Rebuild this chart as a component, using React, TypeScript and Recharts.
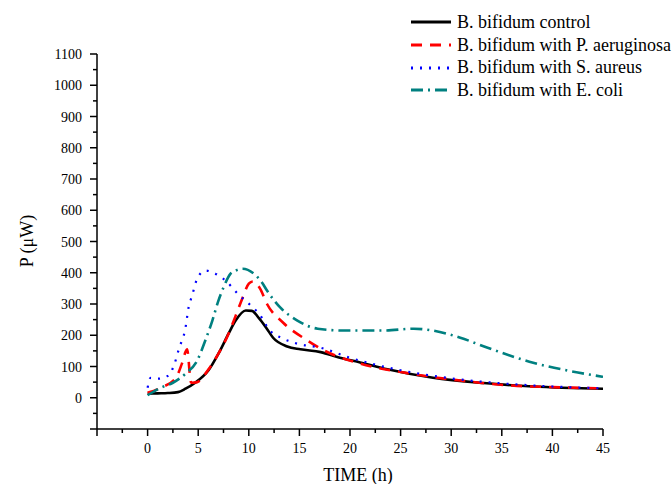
import React from "react";
import { LineChart, Line, XAxis, YAxis, Label } from "recharts";

// time (h) and power (µW) for each culture
const controlTime = [0, 1, 2, 3, 3.75, 4.7, 6, 7, 8, 8.7, 9.7, 10.3, 11, 11.7, 12.4, 13.8, 15.1, 17.1, 19, 21, 23.7, 28.2, 33.2, 38.1, 45];
const controlPower = [13, 14, 15, 18, 29, 48, 87, 141, 205, 247, 279, 278, 255, 225, 192, 164, 155, 146, 128, 113, 91, 64, 47, 36, 29];

const pseudoTime = [0, 1.3, 2.8, 3.4, 3.9, 4.3, 4.9, 6, 7, 8, 8.7, 9.4, 10, 10.4, 11.1, 11.8, 13.4, 15.8, 17.1, 20.7, 26, 30.9, 36.5, 40, 45];
const pseudoPower = [16, 32, 64, 110, 155, 48, 50, 90, 141, 205, 262, 321, 365, 372, 350, 300, 240, 183, 157, 112, 77, 55, 38, 34, 30];

const staphTime = [0, 0.3, 1, 2, 2.6, 3.1, 3.75, 4.05, 4.4, 4.9, 5.7, 6.7, 7.7, 8.9, 10.4, 11, 12.1, 13.4, 14.8, 17.1, 20, 25, 30, 35, 40, 45];
const staphPower = [32, 64, 61, 70, 103, 157, 225, 289, 327, 381, 407, 397, 375, 333, 289, 269, 215, 189, 173, 160, 128, 88, 62, 46, 36, 30];

const coliTime = [0, 1.3, 2.5, 3.75, 4.9, 5.7, 6.4, 7, 7.5, 8.2, 8.7, 9.4, 10.5, 11.3, 11.8, 13.1, 14.8, 16.8, 19.4, 23.3, 26.3, 28.2, 30.9, 33.6, 38.1, 41.5, 45];
const coliPower = [8, 32, 48, 77, 119, 183, 247, 311, 353, 397, 407, 413, 397, 369, 343, 289, 247, 221, 215, 215, 221, 215, 192, 160, 112, 87, 67];

const xTicks = [-5, -2.5, 0, 2.5, 5, 7.5, 10, 12.5, 15, 17.5, 20, 22.5, 25, 27.5, 30, 32.5, 35, 37.5, 40, 42.5, 45];
const yTicks = [-100, -50, 0, 50, 100, 150, 200, 250, 300, 350, 400, 450, 500, 550, 600, 650, 700, 750, 800, 850, 900, 950, 1000, 1050, 1100];

const FONT = "Liberation Serif, Times New Roman, DejaVu Serif, serif";

const toPoints = (t: number[], v: number[]) => t.map((time, i) => ({ t: time, v: v[i] }));

const series = [
  { name: "B. bifidum control", data: toPoints(controlTime, controlPower), color: "#000000", dash: undefined, width: 2.6 },
  { name: "B. bifidum with P. aeruginosa", data: toPoints(pseudoTime, pseudoPower), color: "#ff0000", dash: "11 8", width: 2.6 },
  { name: "B. bifidum with S. aureus", data: toPoints(staphTime, staphPower), color: "#0000ff", dash: "2 7", width: 2.2 },
  { name: "B. bifidum with E. coli", data: toPoints(coliTime, coliPower), color: "#008080", dash: "12 5 2 5", width: 2.6 },
];

function XTick(props: any) {
  const { x, y, payload } = props;
  const major = payload.value % 5 === 0;
  return (
    <g>
      <line x1={x} y1={y} x2={x} y2={y + (major ? 7 : 4)} stroke="#000" strokeWidth={1.5} />
      {major && payload.value >= 0 && (
        <text x={x} y={y + 24} textAnchor="middle" fontSize={14} style={{ fontFamily: FONT }} fill="#000">
          {payload.value}
        </text>
      )}
    </g>
  );
}

function YTick(props: any) {
  const { x, y, payload } = props;
  const major = payload.value % 100 === 0;
  return (
    <g>
      <line x1={x} y1={y} x2={x - (major ? 7 : 4)} y2={y} stroke="#000" strokeWidth={1.5} />
      {major && payload.value >= 0 && (
        <text x={x - 15} y={y + 5} textAnchor="end" fontSize={14} style={{ fontFamily: FONT }} fill="#000">
          {payload.value}
        </text>
      )}
    </g>
  );
}

export default function App() {
  return (
    <div style={{ position: "absolute", left: 0, top: 0, width: 672, height: 484, background: "#fff", fontFamily: FONT }}>
      <LineChart width={672} height={484} margin={{ top: 54, right: 69, bottom: 0, left: 0 }}>
        <XAxis
          dataKey="t"
          type="number"
          domain={[-5, 45]}
          ticks={xTicks}
          interval={0}
          allowDataOverflow
          height={55}
          tickSize={0}
          tickMargin={0}
          tickLine={false}
          tick={<XTick />}
          axisLine={{ stroke: "#000", strokeWidth: 1.5 }}
        >
          <Label
            content={() => (
              <text x={358} y={481} textAnchor="middle" fontSize={18} style={{ fontFamily: FONT }} fill="#000">
                TIME (h)
              </text>
            )}
          />
        </XAxis>
        <YAxis
          type="number"
          domain={[-100, 1100]}
          ticks={yTicks}
          interval={0}
          allowDataOverflow
          width={97}
          tickSize={0}
          tickMargin={0}
          tickLine={false}
          tick={<YTick />}
          axisLine={{ stroke: "#000", strokeWidth: 1.5 }}
        >
          <Label
            content={() => (
              <text
                x={33}
                y={241}
                transform="rotate(-90, 33, 241)"
                textAnchor="middle"
                fontSize={18}
                style={{ fontFamily: FONT }}
                fill="#000"
              >
                P (μW)
              </text>
            )}
          />
        </YAxis>
        {series.map((s) => (
          <Line
            key={s.name}
            data={s.data}
            dataKey="v"
            type="monotone"
            stroke={s.color}
            strokeWidth={s.width}
            strokeDasharray={s.dash}
            dot={false}
            activeDot={false}
            isAnimationActive={false}
          />
        ))}
      </LineChart>
      <div style={{ position: "absolute", left: 410, top: 11, fontSize: 18, color: "#000" }}>
        {series.map((s) => (
          <div key={s.name} style={{ display: "flex", alignItems: "center", height: 22.7, whiteSpace: "nowrap" }}>
            <svg width={42} height={10} style={{ marginRight: 5 }}>
              <line x1={1} y1={5} x2={41} y2={5} stroke={s.color} strokeWidth={s.width + 0.6} strokeDasharray={s.dash} />
            </svg>
            <span>{s.name}</span>
          </div>
        ))}
      </div>
    </div>
  );
}
